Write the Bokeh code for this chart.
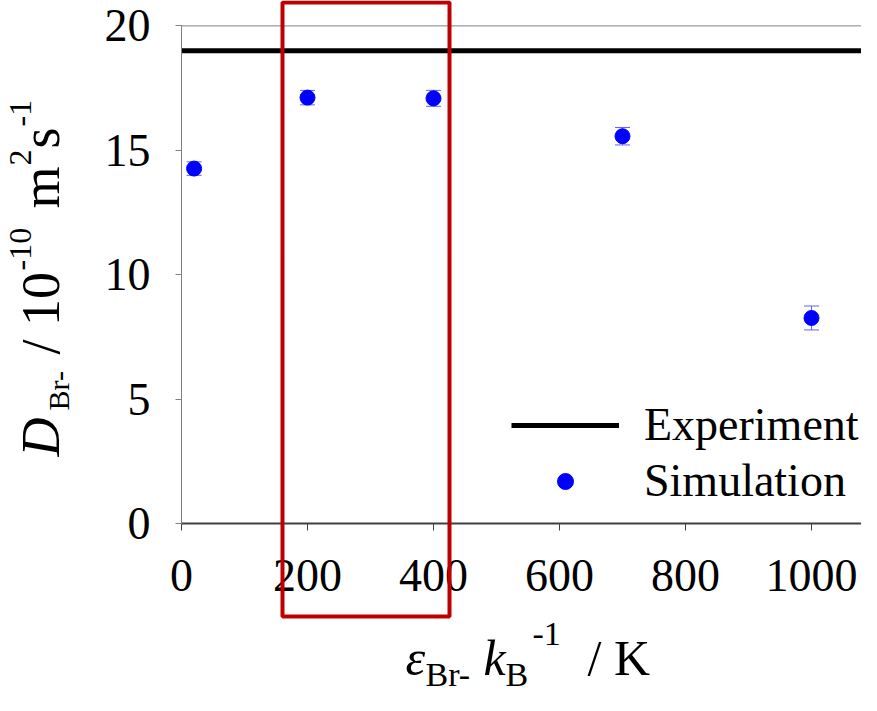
import math
from bokeh.plotting import figure
from bokeh.models import (ColumnDataSource, Whisker, TeeHead, BoxAnnotation,
                          Label, Legend, LegendItem, FixedTicker)
from bokeh.embed import file_html
from bokeh.resources import INLINE

# ---------------- data ----------------
eps_k = [20, 200, 400, 700, 1000]            # epsilon_Br- / kB  (K)
d_sim = [14.27, 17.12, 17.09, 15.57, 8.27]    # simulated D (1e-10 m^2/s)
d_err = [0.27, 0.29, 0.32, 0.35, 0.48]        # error bar half-widths
d_exp = 19.0                                  # experimental D
x_ticks = [0, 200, 400, 600, 800, 1000]
y_ticks = [0, 5, 10, 15, 20]
x_max = 1080
y_max = 20

SERIF = "Liberation Serif"

# ---------------- geometry (pixels) ----------------
W, H = 861, 695
OFF_X, OFF_Y = 8, 14 # reference-pixel -> canvas-pixel offsets
PX_X = 0.63          # px per x unit
PX_Y = 24.9          # px per y unit
X0_PX = 189 - OFF_X  # canvas x of x=0
YT_PX = 39.4 - OFF_Y # canvas y of y=y_max

x_lo = -X0_PX / PX_X
x_hi = (W - X0_PX) / PX_X
y_hi = y_max + YT_PX / PX_Y
y_lo = y_max - (H - YT_PX) / PX_Y

def dx(px):
    return (px - OFF_X - X0_PX) / PX_X

def dy(py):
    return y_max - (py - OFF_Y - YT_PX) / PX_Y

p = figure(width=W, height=H, x_range=(x_lo, x_hi), y_range=(y_lo, y_hi),
           output_backend="svg", toolbar_location=None,
           min_border=0, min_border_left=0, min_border_right=0,
           min_border_top=0, min_border_bottom=0)
p.outline_line_color = None
p.background_fill_color = "white"
p.border_fill_color = "white"
p.xgrid.visible = False
p.ygrid.visible = False

# top boundary line at y_max
p.line(x=[0, x_max], y=[y_max, y_max], line_color="#808080", line_width=1)

# axes (fixed at the data origin)
for ax in (p.xaxis[0], p.yaxis[0]):
    ax.major_label_text_font = SERIF
    ax.major_label_text_font_size = "46px"
    ax.major_label_text_color = "black"
    ax.minor_tick_line_color = None
    ax.major_tick_in = 0
p.xaxis.fixed_location = 0
p.yaxis.fixed_location = 0
p.xaxis.bounds = (0, x_max)
p.yaxis.bounds = (0, y_max)
p.xaxis.ticker = FixedTicker(ticks=x_ticks)
p.yaxis.ticker = FixedTicker(ticks=y_ticks)
p.xaxis.axis_line_color = "#404040"
p.xaxis.axis_line_width = 2
p.xaxis.major_tick_line_color = "#404040"
p.xaxis.major_tick_out = 7
p.xaxis.major_label_standoff = 29
p.yaxis.axis_line_color = "#808080"
p.yaxis.major_tick_line_color = "#808080"
p.yaxis.major_tick_out = 6
p.yaxis.major_label_standoff = 25

# experiment line
exp_r = p.line(x=[0, x_max], y=[d_exp, d_exp], line_color="black", line_width=5)

# simulation points with error bars
src = ColumnDataSource(dict(x=eps_k, y=d_sim,
                            lo=[v - e for v, e in zip(d_sim, d_err)],
                            hi=[v + e for v, e in zip(d_sim, d_err)]))
wcol = "#6060ff"
p.add_layout(Whisker(source=src, base="x", lower="lo", upper="hi", dimension="height",
                     line_color=wcol, line_width=1,
                     upper_head=TeeHead(size=15, line_color=wcol, line_width=1),
                     lower_head=TeeHead(size=15, line_color=wcol, line_width=1)))
sim_r = p.scatter(x="x", y="y", source=src, size=15, marker="circle",
                  fill_color="#0000ff", line_color="#0000ff")

# legend
legend = Legend(items=[LegendItem(label="Experiment", renderers=[exp_r]),
                       LegendItem(label="Simulation", renderers=[sim_r])],
                location=(511, 188), padding=0, margin=0, spacing=3,
                glyph_width=108, glyph_height=40, label_standoff=25,
                label_text_font=SERIF, label_text_font_size="46px",
                label_text_color="black",
                border_line_color=None, background_fill_alpha=0)
p.add_layout(legend)

# red highlight box (spans beyond the plotting area)
p.add_layout(BoxAnnotation(left=dx(290), right=dx(457), bottom=dy(630), top=dy(16),
                           fill_alpha=0, fill_color=None,
                           line_color="#c00000", line_alpha=1.0, line_width=4))

def lab(text, px, py, size, italic=False, angle=0.0):
    shift = 0.37 * size   # baseline compensation
    if angle:
        px -= shift
    else:
        py -= shift
    p.add_layout(Label(x=dx(px), y=dy(py), text=text, angle=angle,
                       text_font=SERIF, text_font_size=f"{size}px",
                       text_font_style="italic" if italic else "normal",
                       text_color="black", text_align="left",
                       text_baseline="alphabetic"))

# x-axis title: eps_Br- kB^-1 / K
lab("\u03b5", 413, 690, 50, italic=True)
lab("Br-", 433, 701, 34)
lab("k", 491, 690, 50, italic=True)
lab("B", 513, 701, 34)
lab("-1", 540, 660, 34)
lab("/ K", 595, 690, 50)

# y-axis title: D_Br- / 10^-10 m^2 s^-1 (rotated)
R = math.pi / 2
lab("D", 68, 470, 54, italic=True, angle=R)
lab("Br-", 77, 424, 30, angle=R)
lab("/ 10", 68, 368, 54, angle=R)
lab("-10", 40, 284, 32, angle=R)
lab("m", 68, 222, 54, angle=R)
lab("2", 40, 179, 32, angle=R)
lab("s", 68, 162, 54, angle=R)
lab("-1", 40, 140, 32, angle=R)

open("out.html", "w").write(file_html(p, INLINE))
